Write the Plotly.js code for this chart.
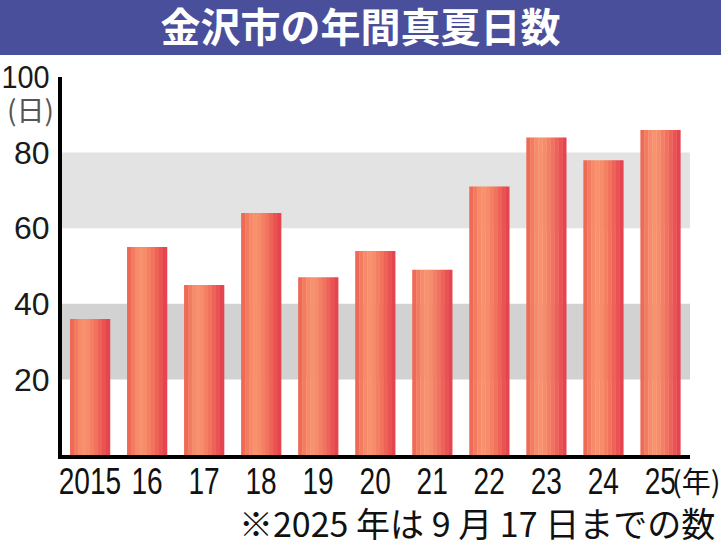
<!DOCTYPE html>
<html>
<head>
<meta charset="utf-8">
<script src="https://cdn.plot.ly/plotly-3.0.1.min.js"></script>
<style>
html,body{margin:0;padding:0;background:#fff;}
#chart{width:721px;height:543px;}
</style>
</head>
<body>
<div id="chart"></div>
<script>
// Data
const years = ["2015","16","17","18","19","20","21","22","23","24","25"];
const days = [36, 55, 45, 64, 47, 54, 49, 71, 84, 78, 86];
const yTicks = [20, 40, 60, 80, 100];
const bandRanges = [[20, 40], [60, 80]];

// Horizontal gradient approximated by thin overlaid stripes
const stripeColors = ["#ef6a56","#f37c60","#f68a69","#f8916d","#f78c6a","#f48063","#f2735d","#ee6357","#ea5351","#e5454e"];
const barWidth = 0.70;
const sw = barWidth / stripeColors.length;
const traces = stripeColors.map((c, i) => ({
  type: 'bar',
  x: years,
  y: days,
  offset: -barWidth/2 + i*sw,
  width: sw*1.08,
  marker: {color: c, line: {width: 0}},
  hoverinfo: 'skip',
  showlegend: false
}));

const bandColors = ["#d2d2d2", "#e3e3e3"];
const shapes = [
  // title band
  {type:'rect', xref:'paper', yref:'paper', x0:-0.2, x1:1.2, y0:(455-55)/378, y1:1.3,
   fillcolor:'#4a4f9c', line:{width:0}, layer:'below'}
].concat(bandRanges.map((r, i) => ({
  type:'rect', xref:'paper', yref:'y', x0:0, x1:1, y0:r[0], y1:r[1],
  fillcolor: bandColors[i], line:{width:0}, layer:'below'
})));

const layout = {
  width: 721, height: 543,
  margin: {l:62, r:31, t:77, b:88},
  paper_bgcolor: '#ffffff',
  plot_bgcolor: 'rgba(0,0,0,0)',
  barmode: 'overlay',
  title: {
    text: '金沢市の年間真夏日数',
    font: {family: '"Noto Sans CJK JP", sans-serif', size: 40, color: '#ffffff', weight: 'bold'},
    x: 0.5, xref: 'container', xanchor: 'center',
    y: 1 - 28/543, yref: 'container', yanchor: 'middle'
  },
  xaxis: {
    type: 'category',
    range: [-0.49, 10.52],
    showgrid: false, zeroline: false,
    showline: true, linecolor: '#000000', linewidth: 4,
    ticks: '', ticklabelstandoff: -8, tickangle: 0,
    tickfont: {family: '"Liberation Sans", Arial, sans-serif', size: 36, color: '#111111'},
    fixedrange: true
  },
  yaxis: {
    range: [0, 100],
    tickvals: yTicks,
    ticktext: yTicks.map(String),
    showgrid: false, zeroline: false,
    showline: true, linecolor: '#000000', linewidth: 4,
    ticks: '', ticklabelstandoff: 2,
    tickfont: {family: '"Liberation Sans", Arial, sans-serif', size: 32, color: '#1a1a1a'},
    fixedrange: true
  },
  shapes: shapes,
  annotations: [
    {text: '(日)', xref:'paper', yref:'paper', x:(31-62)/628, y:(455-109)/378,
     xanchor:'center', yanchor:'middle', showarrow:false,
     font:{family:'"Noto Sans CJK JP", sans-serif', size:28, color:'#555555'}},
    {text: '(年)', xref:'paper', yref:'paper', x:(696-62)/628, y:(455-480)/378,
     xanchor:'center', yanchor:'middle', showarrow:false,
     font:{family:'"Noto Sans CJK JP", sans-serif', size:29, color:'#111111'}},
    {text: '※2025 年は 9 月 17 日までの数', xref:'paper', yref:'paper', x:(717-62)/628, y:(455-522)/378,
     xanchor:'right', yanchor:'middle', showarrow:false,
     font:{family:'"Noto Sans CJK JP", sans-serif', size:34, color:'#111111'}}
  ]
};

Plotly.newPlot('chart', traces, layout, {displayModeBar:false, staticPlot:true}).then(gd => {
  // condense the x tick labels horizontally (narrow typeface look)
  gd.querySelectorAll('.xtick text').forEach(t => {
    const w = t.getComputedTextLength();
    t.setAttribute('textLength', (w * 0.78).toFixed(1));
    t.setAttribute('lengthAdjust', 'spacingAndGlyphs');
  });
  gd.querySelectorAll('.ytick text').forEach(t => {
    if (t.textContent.length > 2) {
      const w = t.getComputedTextLength();
      t.setAttribute('textLength', (w * 0.9).toFixed(1));
      t.setAttribute('lengthAdjust', 'spacingAndGlyphs');
    }
  });
});
</script>
</body>
</html>
